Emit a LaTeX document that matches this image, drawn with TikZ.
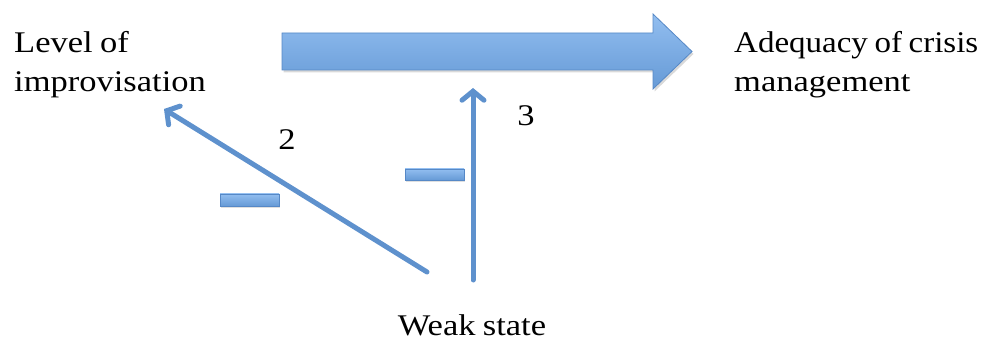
\documentclass[tikz,border=0pt]{standalone}
\usepackage{fontspec}
\setmainfont{Liberation Serif}[FakeStretch=1.15, WordSpace=0.85]
\usetikzlibrary{arrows.meta,shadows,fadings}
\definecolor{linkblue}{RGB}{94,145,205}
\definecolor{arrtop}{RGB}{146,190,240}
\definecolor{arrbot}{RGB}{102,154,214}
\definecolor{arredge}{RGB}{86,136,198}
\tikzset{
  x=1pt, y=1pt,
  label text/.style={inner sep=0pt, font=\fontsize{30}{39}\selectfont},
  link/.style={draw=linkblue, line width=5pt, line cap=round,
    -{Straight Barb[length=9pt,width=22pt,line cap=round]}},
  minusbar/.style={draw=arredge, line width=0.8pt, top color=arrtop, bottom color=arrbot,
    drop shadow={opacity=0.25, shadow xshift=1pt, shadow yshift=-2pt}},
}
\begin{document}
\begin{tikzpicture}
\useasboundingbox (0,0) rectangle (984,340);

% broad flow arrow at the top
\path[draw=arredge, line width=0.8pt, top color=arrtop, bottom color=arrbot,
      drop shadow={opacity=0.3, shadow xshift=1.5pt, shadow yshift=-2.5pt}]
  (282,270) -- (653,270) -- (653,251) -- (692,288.5) -- (653,326) -- (653,307) -- (282,307) -- cycle;
\coordinate (flow) at (473,270);

% texts (base anchor sits on the last line)
\node[label text, anchor=base west, align=left] (level) at (14,248) {Level of\\improvisation};
\node[label text, anchor=base west, align=left] (adequacy) at (734,248)
  {\fontspec{Liberation Serif}[FakeStretch=1.1, WordSpace=0.8]Adequacy of crisis\\management};
\node[label text, anchor=base] (weak) at (472,5) {Weak state};
\node[label text] (two) at (287,200) {2};
\node[label text] (three) at (526,224) {3};

% connector end points
\coordinate (weakL) at (427,68);
\coordinate (weakR) at (473,60);
\coordinate (levelEnd) at (164,231);
\coordinate (flowEnd) at (473,252);

\draw[link] (weakL) -- (levelEnd);
\draw[link] (weakR) -- (flowEnd);

% minus signs
\path[minusbar] (220,134) rectangle (279,146);
\path[minusbar] (405,160) rectangle (464,171);
\end{tikzpicture}
\end{document}
